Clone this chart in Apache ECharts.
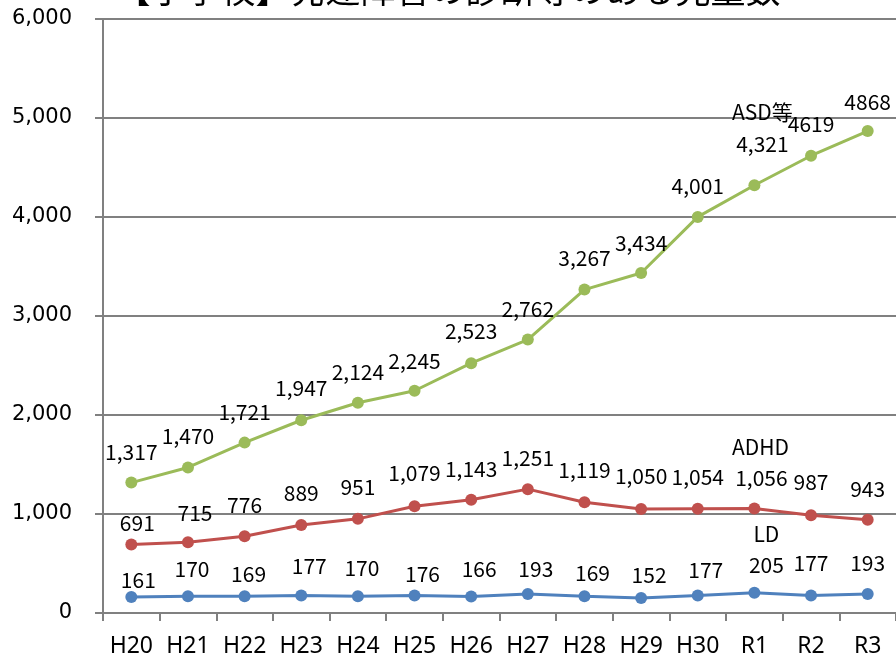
<!DOCTYPE html>
<html>
<head>
<meta charset="utf-8">
<script src="https://cdn.jsdelivr.net/npm/echarts@6/dist/echarts.min.js"></script>
<style>html,body{margin:0;padding:0;background:#fff;}#c{width:896px;height:660px;}</style>
</head>
<body>
<div id="c"></div>
<script>
const titleText = '【小学校】発達障害の診断等のある児童数';
const categories = ['H20','H21','H22','H23','H24','H25','H26','H27','H28','H29','H30','R1','R2','R3'];
const yTicks = [0, 1000, 2000, 3000, 4000, 5000, 6000];
const asdName = 'ASD等';
const adhdName = 'ADHD';
const ldName = 'LD';
const asdValues = [1317, 1470, 1721, 1947, 2124, 2245, 2523, 2762, 3267, 3434, 4001, 4321, 4619, 4868];
const adhdValues = [691, 715, 776, 889, 951, 1079, 1143, 1251, 1119, 1050, 1054, 1056, 987, 943];
const ldValues = [161, 170, 169, 177, 170, 176, 166, 193, 169, 152, 177, 205, 177, 193];
// label nudges (pixels, relative to point)
const asdLabelOffsets = [[0,-31],[0,-31],[0,-31],[0,-32],[0,-31],[0,-30],[0,-32],[0,-31],[0,-32],[0,-30],[0,-31],[8,-41],[0,-32],[0,-29]];
const adhdLabelOffsets = [[6,-22],[7,-29],[0,-31],[0,-32],[0,-32],[0,-33],[0,-31],[0,-31],[0,-32],[0,-33],[0,-32],[7,-30],[0,-33],[0,-31]];
const ldLabelOffsets = [[7,-17],[4,-27],[4,-22],[8,-29],[4,-28],[8,-22],[8,-28],[8,-25],[8,-23],[8,-23],[8,-25],[12,-28],[0,-32],[0,-31]];
const asdNoCommaIdx = [12, 13];
// series-name annotation anchors (category, value)
const asdNameAt = ['R1', 5062];
const adhdNameAt = ['R1', 1674];
const ldNameAt = ['R1', 797];

const fmt = v => v.toLocaleString('en-US');
const labelFont = '"Noto Sans CJK JP", "Noto Sans", sans-serif';

function mkData(values, offsets, noComma) {
  return values.map((v, i) => ({
    value: v,
    label: {
      offset: offsets[i],
      formatter: (noComma && noComma.includes(i)) ? String(v) : fmt(v)
    }
  }));
}

function mkSeries(name, color, values, offsets, noComma, nameAt, nameOffset) {
  return {
    name: name,
    type: 'line',
    data: mkData(values, offsets, noComma),
    symbol: 'circle',
    symbolSize: 12,
    lineStyle: { color: color, width: 3 },
    itemStyle: { color: color },
    label: {
      show: true,
      position: 'inside',
      color: '#000',
      fontFamily: labelFont,
      fontSize: 21
    },
    markPoint: {
      symbol: 'circle',
      symbolSize: 0,
      silent: true,
      data: [{ coord: nameAt, value: name }],
      label: {
        show: true,
        position: 'inside',
        offset: nameOffset,
        formatter: name,
        color: '#000',
        fontFamily: labelFont,
        fontSize: 21
      }
    },
    animation: false,
    z: 3
  };
}

const chart = echarts.init(document.getElementById('c'), null, { renderer: 'canvas' });
chart.setOption({
  animation: false,
  backgroundColor: '#fff',
  graphic: [{
    type: 'text',
    left: 'center',
    top: -28,
    style: {
      text: titleText,
      fontFamily: labelFont,
      fontSize: 35,
      fill: '#000'
    }
  }],
  grid: { left: 103, top: 19, right: -5, bottom: 47, containLabel: false },
  xAxis: {
    type: 'category',
    data: categories,
    boundaryGap: true,
    axisLine: { lineStyle: { color: '#808080', width: 2 } },
    axisTick: { show: true, length: 8, lineStyle: { color: '#808080', width: 2 } },
    axisLabel: {
      color: '#000',
      fontFamily: '"Noto Sans", sans-serif',
      fontSize: 23,
      margin: 22,
      interval: 0
    }
  },
  yAxis: {
    type: 'value',
    min: yTicks[0],
    max: yTicks[yTicks.length - 1],
    interval: yTicks[1] - yTicks[0],
    axisLine: { show: true, lineStyle: { color: '#808080', width: 2 } },
    axisTick: { show: true, length: 8, lineStyle: { color: '#808080', width: 2 } },
    splitLine: { show: true, lineStyle: { color: '#808080', width: 2 } },
    axisLabel: {
      color: '#000',
      fontFamily: '"DejaVu Sans", sans-serif',
      fontSize: 21,
      margin: 31,
      formatter: v => fmt(v)
    }
  },
  series: [
    mkSeries(asdName, '#9BBB59', asdValues, asdLabelOffsets, asdNoCommaIdx, asdNameAt, [8, 0]),
    mkSeries(adhdName, '#C0504D', adhdValues, adhdLabelOffsets, null, adhdNameAt, [6, 0]),
    mkSeries(ldName, '#4F81BD', ldValues, ldLabelOffsets, null, ldNameAt, [12, 0])
  ]
});
</script>
</body>
</html>
